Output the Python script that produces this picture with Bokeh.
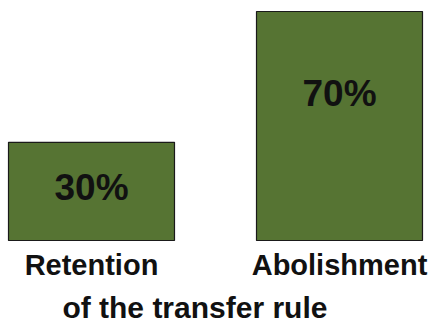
from bokeh.plotting import figure
from bokeh.models import ColumnDataSource, Range1d, Label
from bokeh.core.properties import value
from bokeh.embed import file_html
from bokeh.resources import INLINE

categories = ["Retention", "Abolishment"]
shares = [30, 70]
share_labels = ["30%", "70%"]
axis_title = "of the transfer rule"

BAR = "#567433"
FONT = "Liberation Sans"

xs = list(range(len(categories)))
src = ColumnDataSource(dict(
    x=xs,
    top=shares,
    lab=share_labels,
    laby=[0.7225 * s - 5.5 for s in shares],
    cat=categories,
    zero=[0] * len(categories),
))

px_per_unit = 229 / 70
p = figure(width=434, height=324, output_backend="svg", toolbar_location=None,
           x_range=Range1d(-91 / 248, 343 / 248),
           y_range=Range1d(-84 / px_per_unit, 240 / px_per_unit),
           min_border=0, min_border_left=0, min_border_right=0,
           min_border_top=0, min_border_bottom=0)
p.axis.visible = False
p.grid.visible = False
p.outline_line_color = None
p.background_fill_color = "white"
p.border_fill_color = "white"

p.vbar(x="x", top="top", bottom=0, width=166 / 248, source=src,
       fill_color=BAR, line_color="#1a1a1a", line_width=1.2)

p.text(x="x", y="laby", text="lab", source=src,
       text_font=value(FONT), text_font_style="bold", text_font_size="37px",
       text_align="center", text_baseline="middle", text_color="#111111")

p.text(x="x", y="zero", text="cat", source=src, y_offset=24,
       text_font=value(FONT), text_font_style="bold", text_font_size="29px",
       text_align="center", text_baseline="alphabetic", text_color="#111111")

p.add_layout(Label(x=0.417, y=-67 / px_per_unit, text=axis_title,
                   text_font=FONT, text_font_style="bold", text_font_size="30px",
                   text_align="center", text_baseline="alphabetic",
                   text_color="#111111"))

open("out.html", "w").write(file_html(p, INLINE))
